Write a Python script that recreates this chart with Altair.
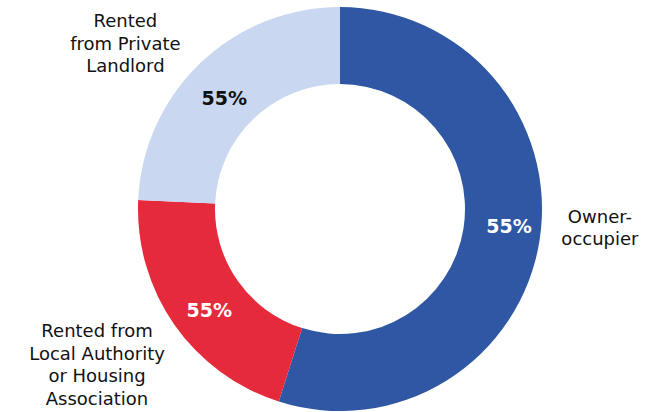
import altair as alt
import pandas as pd

categories = [
    "Owner-occupier",
    "Rented from Local Authority or Housing Association",
    "Rented from Private Landlord",
]
shares = [54.9, 20.8, 24.3]
value_labels = ["55%", "55%", "55%"]
category_lines = [
    ["Owner-", "occupier"],
    ["Rented from", "Local Authority", "or Housing", "Association"],
    ["Rented", "from Private", "Landlord"],
]
colors = ["#2F57A3", "#E52A3B", "#C9D7F0"]

df = pd.DataFrame({
    "category": categories,
    "share": shares,
    "pct": value_labels,
    "label": ["\n".join(lines) for lines in category_lines],
    "idx": list(range(len(categories))),
})

FONT = "DejaVu Sans"

base = alt.Chart(df).encode(
    theta=alt.Theta("share:Q", stack=True),
    order=alt.Order("idx:Q"),
)

arcs = base.mark_arc(outerRadius=202, innerRadius=125).encode(
    color=alt.Color("category:N", scale=alt.Scale(domain=categories, range=colors), legend=None)
)

# percentage labels inside the ring: (dx, dy) nudges per slice
pct_layout = [(8, -7), (3, 9), (-3, 8)]
pct_colors = ["#ffffff", "#ffffff", "#111111"]
pct_layers = []
for i, ((dx, dy), col) in enumerate(zip(pct_layout, pct_colors)):
    pct_layers.append(
        base.mark_text(radius=163, dx=dx, dy=dy, font=FONT, fontSize=19,
                       fontWeight="bold", align="center", baseline="middle",
                       color=col).encode(
            text=alt.condition(alt.datum.idx == i, "pct:N", alt.value(""))
        )
    )

# outside category labels: (radius, dx, dy) per slice
label_layout = [(260, 3, -31), (289, -6, -42), (267, -30, 6)]
label_layers = []
for i, (r, dx, dy) in enumerate(label_layout):
    label_layers.append(
        base.mark_text(radius=r, dx=dx, dy=dy, font=FONT, fontSize=18,
                       lineBreak="\n", lineHeight=22.5, align="center",
                       baseline="middle", color="#111111").encode(
            text=alt.condition(alt.datum.idx == i, "label:N", alt.value(""))
        )
    )

chart = alt.layer(arcs, *pct_layers, *label_layers).properties(
    width=648, height=406,
    padding={"left": 16, "top": 6, "right": 0, "bottom": 0},
    autosize="none",
).configure_view(stroke=None)

chart.save("out.html", embed_options={"renderer": "svg", "actions": False})
